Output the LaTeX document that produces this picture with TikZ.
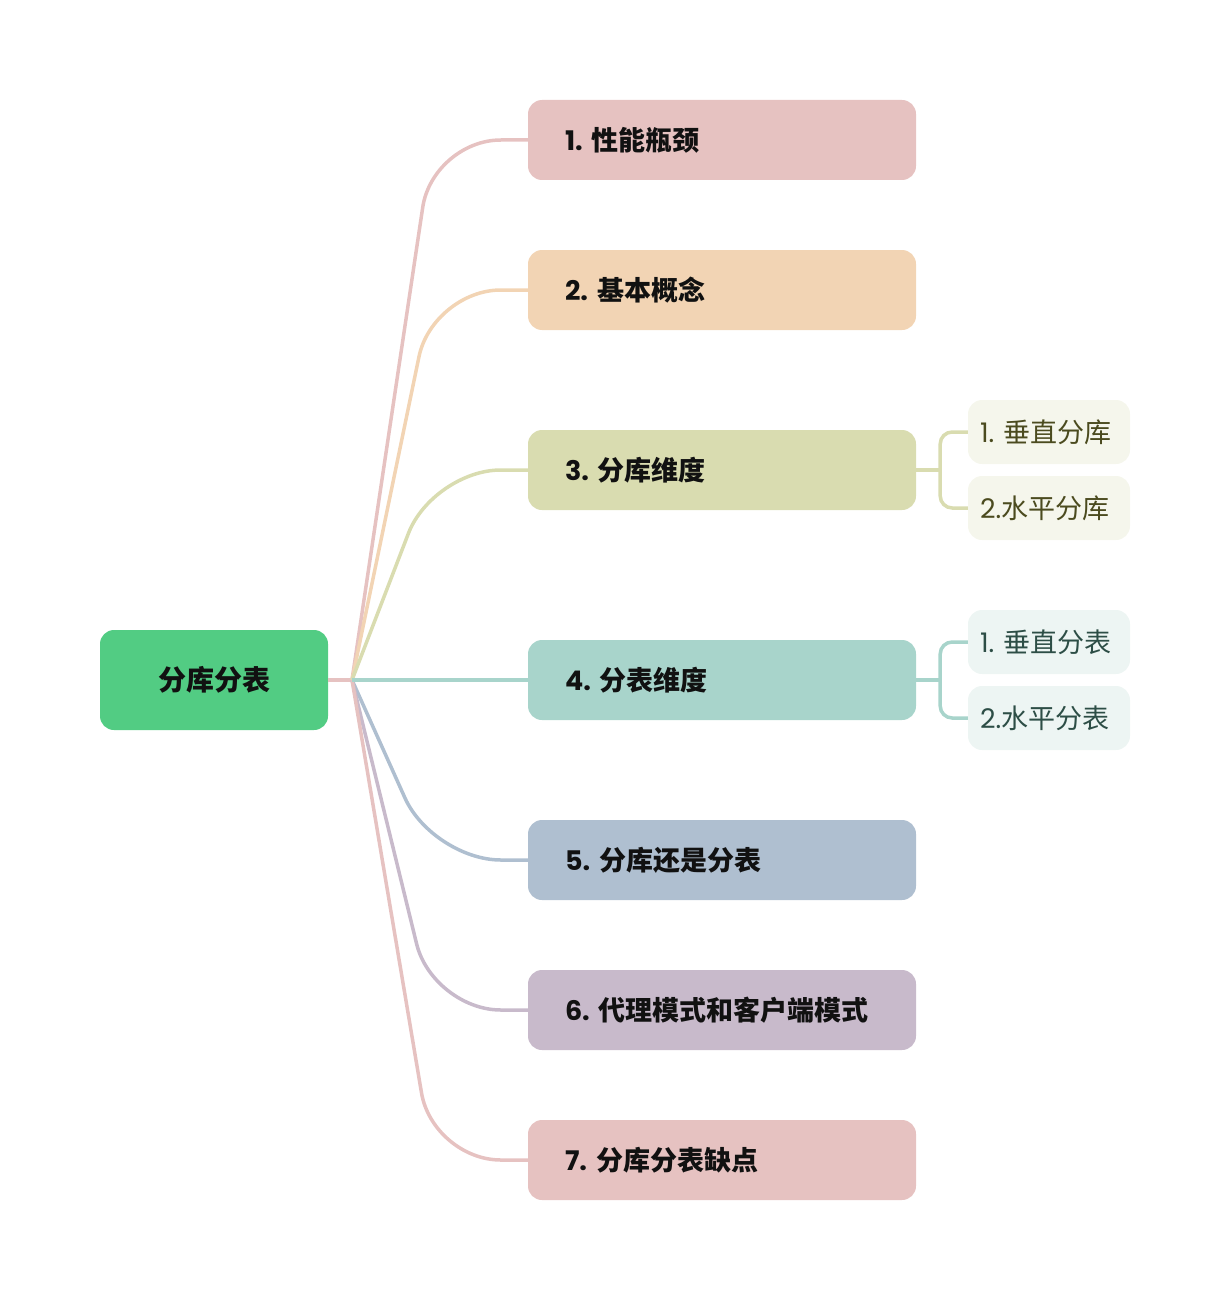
\documentclass[tikz,border=0pt]{standalone}
\usepackage{fontspec}
\setmainfont{Poppins}
\newfontfamily\cjk{Noto Sans CJK SC}
\definecolor{rootc}{HTML}{52CC83}
\definecolor{ca}{HTML}{E6C2C1}
\definecolor{cb}{HTML}{F2D4B4}
\definecolor{cc}{HTML}{D9DCB0}
\definecolor{cd}{HTML}{A8D4CB}
\definecolor{ce}{HTML}{AFBFD0}
\definecolor{cf}{HTML}{C8BACB}
\definecolor{cg}{HTML}{E6C2C1}
\definecolor{subcfill}{HTML}{F5F6EC}
\definecolor{subctext}{HTML}{4B4B1F}
\definecolor{subdfill}{HTML}{EDF5F3}
\definecolor{subdtext}{HTML}{2D4E46}
\definecolor{ink}{HTML}{111111}
% number prefix followed by a narrow gap
\newcommand{\numgap}[1]{#1\hspace{9pt}}
\begin{document}
\begin{tikzpicture}[x=1pt,y=-1pt,
  rootbox/.style={rectangle, rounded corners=14pt, fill=rootc, minimum width=228pt,
    minimum height=100pt, text=ink, font=\fontsize{28}{32}\selectfont\bfseries},
  branch/.style={rectangle, rounded corners=14pt, fill=#1, minimum width=388pt,
    minimum height=80pt, inner xsep=37pt, text width=314pt, align=left, text=ink,
    font=\fontsize{27}{32}\selectfont\bfseries},
  leaf/.style 2 args={rectangle, rounded corners=14pt, fill=#1, text=#2, minimum width=162pt,
    minimum height=64pt, inner xsep=12pt, text width=138pt, align=left,
    font=\fontsize{27}{32}\selectfont},
  link/.style={line width=3.5pt, draw=#1},
]
\useasboundingbox (0,0) rectangle (1230,1300);

% central topic and first-level topics
\node[rootbox] (root) at (214,680) {\cjk 分库分表};
\node[branch=ca] (b1) at (722,140)  {\numgap{1.}{\cjk 性能瓶颈}};
\node[branch=cb] (b2) at (722,290)  {\numgap{2.}{\cjk 基本概念}};
\node[branch=cc] (b3) at (722,470)  {\numgap{3.}{\cjk 分库维度}};
\node[branch=cd] (b4) at (722,680)  {\numgap{4.}{\cjk 分表维度}};
\node[branch=ce] (b5) at (722,860)  {\numgap{5.}{\cjk 分库还是分表}};
\node[branch=cf] (b6) at (722,1010) {\numgap{6.}{\cjk 代理模式和客户端模式}};
\node[branch=cg] (b7) at (722,1160) {\numgap{7.}{\cjk 分库分表缺点}};

% second-level topics
\node[leaf={subcfill}{subctext}] (s31) at (1049,432) {\numgap{1.}{\cjk 垂直分库}};
\node[leaf={subcfill}{subctext}] (s32) at (1049,508) {2.{\cjk 水平分库}};
\node[leaf={subdfill}{subdtext}] (s41) at (1049,642) {\numgap{1.}{\cjk 垂直分表}};
\node[leaf={subdfill}{subdtext}] (s42) at (1049,718) {2.{\cjk 水平分表}};

% connectors from the central topic
\coordinate (hub) at (352,680);
\draw[link=ca] (root.east) -- (hub);
\foreach \b/\c in {b1/ca, b2/cb, b3/cc, b5/ce, b6/cf, b7/cg}
  \draw[link=\c, rounded corners=68pt] (hub) -- ([xshift=-95pt]\b.west) -- (\b.west);
\draw[link=cd] (hub) -- (b4.west);

% brackets to the second-level topics
\draw[link=cc] (b3.east) -- ++(24,0) coordinate (f3);
\draw[link=cc, rounded corners=12pt] (f3) |- (s31.west);
\draw[link=cc, rounded corners=12pt] (f3) |- (s32.west);
\draw[link=cd] (b4.east) -- ++(24,0) coordinate (f4);
\draw[link=cd, rounded corners=12pt] (f4) |- (s41.west);
\draw[link=cd, rounded corners=12pt] (f4) |- (s42.west);
\end{tikzpicture}
\end{document}
